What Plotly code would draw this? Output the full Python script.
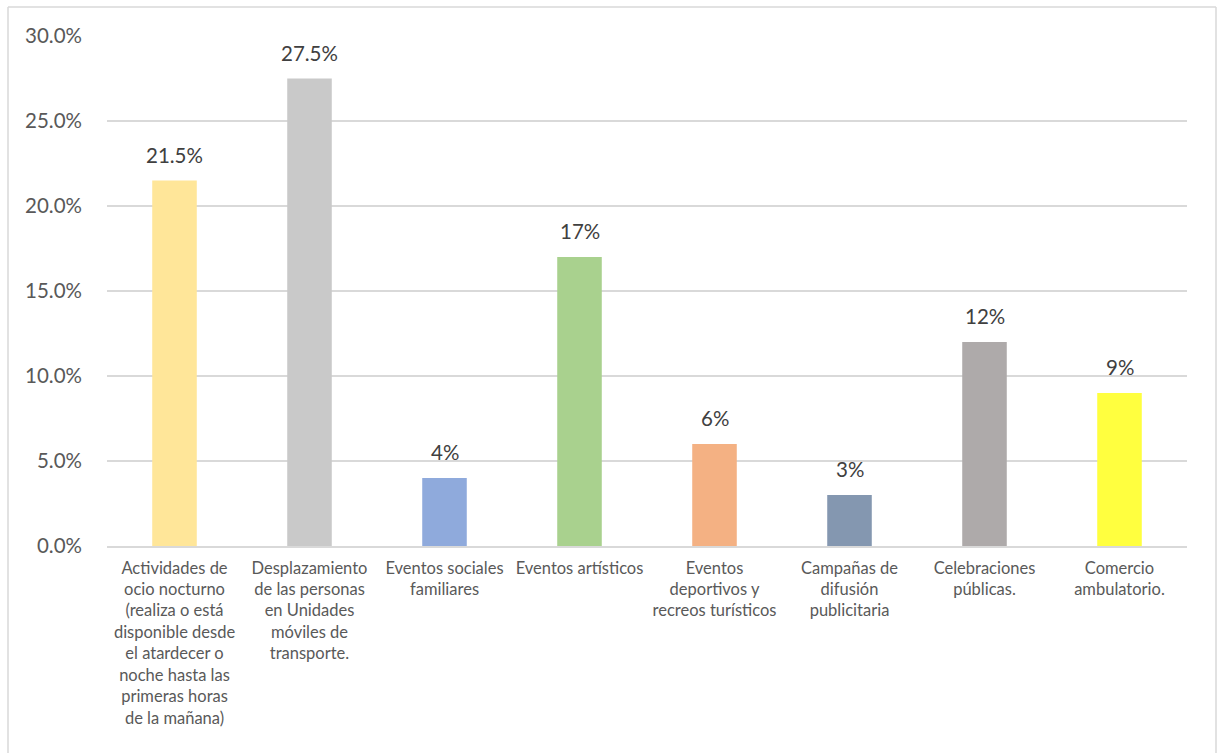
import plotly.graph_objects as go

# Categorías de actividades y porcentajes
categorias = [
    "Actividades de<br>ocio nocturno<br>(realiza o está<br>disponible desde<br>el atardecer o<br>noche hasta las<br>primeras horas<br>de la mañana)",
    "Desplazamiento<br>de las personas<br>en Unidades<br>móviles de<br>transporte.",
    "Eventos sociales<br>familiares",
    "Eventos artísticos",
    "Eventos<br>deportivos y<br>recreos turísticos",
    "Campañas de<br>difusión<br>publicitaria",
    "Celebraciones<br>públicas.",
    "Comercio<br>ambulatorio.",
]
valores = [0.215, 0.275, 0.04, 0.17, 0.06, 0.03, 0.12, 0.09]
etiquetas = ["21.5%", "27.5%", "4%", "17%", "6%", "3%", "12%", "9%"]
colores = ["#FFE699", "#C9C9C9", "#8FAADC", "#A9D18E", "#F4B183",
           "#8497B0", "#AEAAAA", "#FFFF3F"]

FONT = "Lato"

fig = go.Figure(
    go.Bar(
        x=categorias,
        y=valores,
        marker=dict(color=colores, line=dict(width=0)),
        hoverinfo="skip",
    )
)

# Etiquetas de datos sobre cada barra
for cat, val, txt in zip(categorias, valores, etiquetas):
    fig.add_annotation(
        x=cat, y=val, text=txt, showarrow=False,
        yanchor="middle", yshift=26,
        font=dict(family=FONT, size=20.5, color="#404040"),
    )

W, H = 1222, 753
L, R, T, B = 107, 35, 36, 207
pw, ph = W - L - R, H - T - B


def px_x(p):
    return (p - L) / pw


def px_y(p):
    return (H - B - p) / ph


# Marco exterior del gráfico
borde = dict(type="line", xref="paper", yref="paper",
             line=dict(color="#D9D9D9", width=1.5))
fig.add_shape(**borde, x0=px_x(8), x1=px_x(1216), y0=px_y(7), y1=px_y(7))
fig.add_shape(**borde, x0=px_x(8), x1=px_x(8), y0=px_y(7), y1=px_y(800))
fig.add_shape(**borde, x0=px_x(1216), x1=px_x(1216), y0=px_y(7), y1=px_y(800))

fig.update_layout(
    width=W,
    height=H,
    margin=dict(l=L, r=R, t=T, b=B, pad=0),
    paper_bgcolor="white",
    plot_bgcolor="white",
    bargap=0.67,
    showlegend=False,
    font=dict(family=FONT, color="#595959"),
    xaxis=dict(
        tickfont=dict(family=FONT, size=16.5, color="#595959"),
        showline=True,
        linecolor="#D9D9D9",
        linewidth=1.5,
        ticks="",
        tickangle=0,
        ticklabelstandoff=6,
        fixedrange=True,
    ),
    yaxis=dict(
        range=[0, 0.30],
        dtick=0.05,
        tickformat=".1%",
        tickfont=dict(family=FONT, size=20.5, color="#595959"),
        showgrid=True,
        gridcolor="#D9D9D9",
        gridwidth=1.5,
        zeroline=False,
        ticks="",
        ticklabelstandoff=24,
        fixedrange=True,
    ),
)

fig.write_html("out.html")
